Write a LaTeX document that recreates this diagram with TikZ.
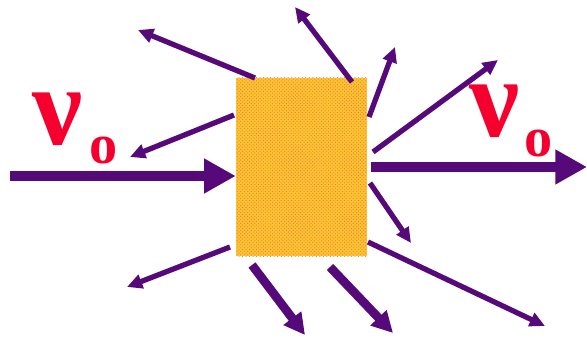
\documentclass[tikz,border=0pt]{standalone}
\usepackage{fontspec}
\setmainfont{Liberation Serif}
\usetikzlibrary{arrows.meta,patterns}
\definecolor{Purple}{HTML}{560A7A}
\definecolor{Red}{HTML}{F5002E}
\definecolor{Orange}{HTML}{EE763C}
\definecolor{Yellow}{HTML}{FBC430}
\tikzset{
  block/.style={rectangle,inner sep=0pt,minimum width=3.93cm,minimum height=5.34cm,
    fill=Yellow,postaction={pattern=crosshatch dots,pattern color=Orange}},
  beam/.style={-{Triangle[length=27pt,width=28pt]},draw=Purple,line width=9pt},
  ray/.style={-{Triangle[length=13pt,width=12pt]},draw=Purple,line width=4.5pt},
  bigray/.style={-{Triangle[length=18pt,width=18pt]},draw=Purple,line width=7.5pt},
  speed/.style={text=Red,font=\bfseries,inner sep=0pt}
}
\begin{document}
\begin{tikzpicture}[x=0.03cm,y=-0.03cm]
  \useasboundingbox (0,0) rectangle (587,341);
  \node[block] (box) at (301.5,167) {};
  % incoming and outgoing beam
  \coordinate (in) at (10,176);
  \coordinate (out) at (587,167);
  \draw[beam] (in) -- (box.west |- in);
  \draw[beam] (box.east |- out) ++(4,0) -- (out);
  % scattered rays
  \coordinate (t1) at (255,78);  \coordinate (h1) at (138,30);
  \coordinate (t2) at (234,115); \coordinate (h2) at (130,157);
  \coordinate (t3) at (352,82);  \coordinate (h3) at (295,7);
  \coordinate (t4) at (369,117); \coordinate (h4) at (395,47);
  \coordinate (t5) at (373,152); \coordinate (h5) at (498,60);
  \coordinate (t6) at (230,247); \coordinate (h6) at (127,287);
  \coordinate (t7) at (370,183); \coordinate (h7) at (411,243);
  \coordinate (t8) at (368,242); \coordinate (h8) at (545,326);
  \foreach \i in {1,...,8}
    \draw[ray] (t\i) -- (h\i);
  \coordinate (t9) at (252,265);  \coordinate (h9) at (305,335);
  \coordinate (t10) at (330,267); \coordinate (h10) at (393,333);
  \draw[bigray] (t9) -- (h9);
  \draw[bigray] (t10) -- (h10);
  % labels
  \node[speed,anchor=base west] (vl) at (32,145) {\fontsize{96}{96}\selectfont ν};
  \node[speed,anchor=base west] (vlo) at (89,164) {\fontsize{48}{48}\selectfont o};
  \node[speed,anchor=base west] (vr) at (469,137) {\fontsize{96}{96}\selectfont ν};
  \node[speed,anchor=base west] (vro) at (524,157) {\fontsize{48}{48}\selectfont o};
\end{tikzpicture}
\end{document}
